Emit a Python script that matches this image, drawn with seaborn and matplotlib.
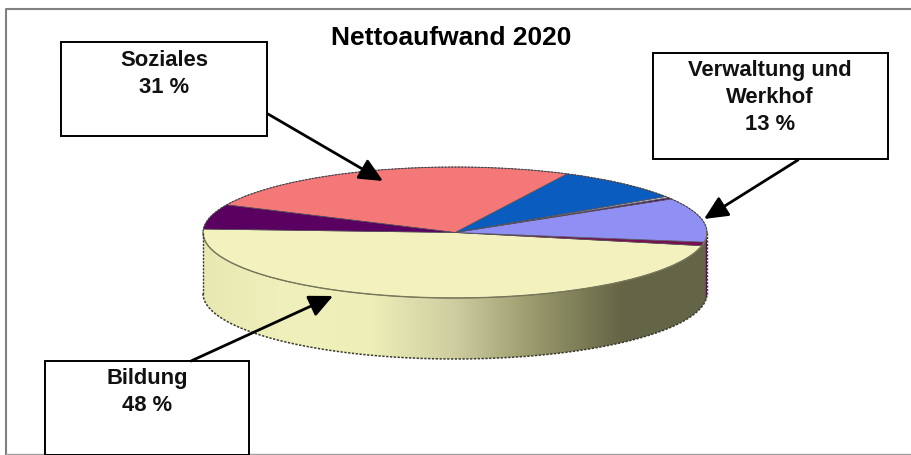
import numpy as np
import matplotlib
matplotlib.use("Agg")
import matplotlib.pyplot as plt
from matplotlib.patches import Polygon
import seaborn as sns

# shares (the callouts group several slices)
slice_names = ["Bildung", "Rest", "Verwaltung", "Sliver dark", "Sliver light", "Blau", "Soziales", "Soziales 2"]
slice_values = [47.6, 0.9, 10.9, 0.35, 0.35, 8.4, 25.4, 6.1]
slice_colors = ["#F3F2BE", "#7A1050", "#9090F4", "#4A1060", "#C8C8D8", "#0A5CBE", "#F57878", "#5A0060"]

title_text = "Nettoaufwand 2020"
callout_texts = ["Soziales\n31 %", "Verwaltung und\nWerkhof\n13 %", "Bildung\n48 %"]

W, H = 911, 455
CX, CY, RX, RY = 455.0, 232.5, 252.0, 65.5
DEPTH = 61 / RY
START = 177.0

sns.set_theme(style="white")
plt.rcParams["font.family"] = ["Liberation Sans", "DejaVu Sans"]

fig = plt.figure(figsize=(W / 100, H / 100), dpi=100, facecolor="white")

# pie axes: data unit 1 = one pie radius, squashed by the limits
ax = fig.add_axes([0, 0, 1, 1])
wedges, _ = ax.pie(slice_values, colors=slice_colors, startangle=START, counterclock=True,
                   wedgeprops=dict(edgecolor="#55505A", linewidth=0.5, zorder=3))
ax.set_aspect("auto")
x_lim = (-CX / RX, (W - CX) / RX)
y_lim = ((CY - H) / RY, CY / RY)


def wall_polygon(a0, a1):
    t = np.radians(np.linspace(a0, a1, 200))
    x, y = np.cos(t), np.sin(t)
    return np.r_[np.c_[x, y], np.c_[x, y - DEPTH][::-1]]


# side wall with the shaded gradient
wall_cmap = sns.blend_palette(["#E8E8B2", "#F0F0BC", "#EEEEB8", "#CDCDA0", "#969669", "#646446", "#646448"], as_cmap=True)
grad = ax.imshow(np.linspace(0, 1, 256)[None, :], cmap=wall_cmap, extent=(-1, 1, -1 - DEPTH, 1),
                 aspect="auto", zorder=1, interpolation="bilinear")
grad.set_clip_path(Polygon(wall_polygon(180, 360), transform=ax.transData))

# part of the wall that belongs to the thin slice at the right
shares = np.cumsum(slice_values) / np.sum(slice_values) * 360 + START
ax.add_patch(Polygon(wall_polygon(shares[0] + 6, 360), closed=True, facecolor="#5A1050", edgecolor="none", zorder=2))

# speckled rim of the cylinder
t = np.radians(np.linspace(180, 360, 300))
ax.plot(np.cos(t), np.sin(t), color="#77775A", lw=1.0, zorder=4)
ax.plot(np.cos(t), np.sin(t) - DEPTH, color="#3A3A2E", lw=1.1, ls=(0, (1.5, 1)), zorder=4)
t = np.radians(np.linspace(0, 180, 300))
ax.plot(np.cos(t), np.sin(t), color="#3A3A40", lw=0.8, ls=(0, (1.5, 1.5)), zorder=4)
for sx in (-1, 1):
    ax.plot([sx, sx], [0, -DEPTH], color="#3A3A2E", lw=1.0, ls=(0, (1.5, 1)), zorder=4)

ax.set_xlim(x_lim)
ax.set_ylim(y_lim)
ax.axis("off")

# overlay in pixel coordinates for frame, callouts and title
ov = fig.add_axes([0, 0, 1, 1], facecolor="none")
ov.set_xlim(0, W)
ov.set_ylim(H, 0)
ov.axis("off")

ov.plot([6, 6, W], [H, 9, 9], color="#808080", lw=1.5, zorder=1)
ov.plot([6, W], [454, 454], color="#A0A0A0", lw=1.0, zorder=1)

ov.text(451, 38, title_text, ha="center", va="center", fontsize=19, fontweight="bold", color="black")

boxes = [(61, 42, 267, 136), (653, 53, 888, 159), (45, 361, 249, 455)]
arrows = [((268, 114), (383, 181)), ((798, 160), (704, 219)), ((191, 361), (333, 296))]
text_tops = [(164, 50), (770, 60), (147, 368)]

for (x0, y0, x1, y1), txt, (tx, ty) in zip(boxes, callout_texts, text_tops):
    ov.fill([x0, x1, x1, x0], [y0, y0, y1, y1], facecolor="white", edgecolor="black", lw=1.4, zorder=5)
    ov.text(tx, ty, txt, ha="center", va="top", fontsize=15.8, fontweight="bold", color="#111111",
            linespacing=1.36, zorder=6)

for start, end in arrows:
    ov.annotate("", xy=end, xytext=start, zorder=7,
                arrowprops=dict(arrowstyle="-|>,head_length=0.9,head_width=0.42", color="black", lw=2,
                                shrinkA=0, shrinkB=0, mutation_scale=16))

fig.savefig("out.png", dpi=100)
